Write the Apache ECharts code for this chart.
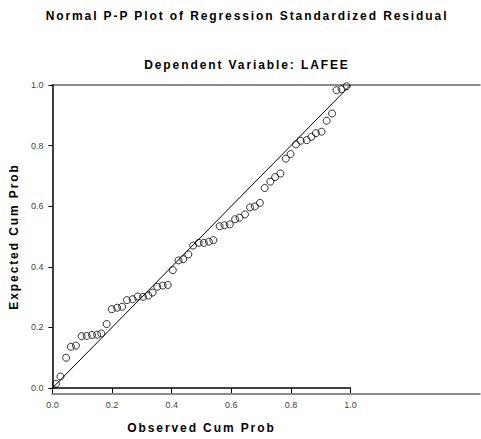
<!DOCTYPE html>
<html>
<head>
<meta charset="utf-8">
<title>Normal P-P Plot</title>
<script src="https://cdn.jsdelivr.net/npm/echarts@6/dist/echarts.min.js"></script>
<style>
  html, body { margin: 0; padding: 0; background: #fff; }
  #main { width: 481px; height: 439px; }
  /* SPSS output spreads out its bold captions */
  #main text[style*="bold"] { letter-spacing: 1.9px; }
</style>
</head>
<body>
<div id="main"></div>
<script type="text/javascript">
    // observed cum prob (x) and expected cum prob (y)
    var observed = [0.012, 0.027, 0.046, 0.062, 0.079, 0.098, 0.115, 0.133, 0.150, 0.164,
                    0.182, 0.199, 0.217, 0.234, 0.250, 0.269, 0.286, 0.304, 0.322, 0.336,
                    0.352, 0.370, 0.387, 0.404, 0.423, 0.439, 0.456, 0.472, 0.491, 0.508,
                    0.525, 0.540, 0.561, 0.577, 0.595, 0.613, 0.628, 0.646, 0.663, 0.679,
                    0.696, 0.712, 0.731, 0.747, 0.765, 0.783, 0.799, 0.817, 0.833, 0.853,
                    0.869, 0.884, 0.903, 0.920, 0.938, 0.953, 0.970, 0.987];
    var expected = [0.014, 0.038, 0.100, 0.136, 0.140, 0.171, 0.172, 0.175, 0.176, 0.180,
                    0.211, 0.260, 0.265, 0.268, 0.290, 0.293, 0.302, 0.301, 0.305, 0.315,
                    0.334, 0.338, 0.340, 0.389, 0.421, 0.425, 0.441, 0.470, 0.479, 0.479,
                    0.483, 0.488, 0.534, 0.537, 0.540, 0.557, 0.562, 0.573, 0.596, 0.599,
                    0.611, 0.660, 0.681, 0.696, 0.708, 0.757, 0.772, 0.804, 0.816, 0.818,
                    0.829, 0.841, 0.846, 0.882, 0.906, 0.983, 0.986, 0.996];
    var refLine = [[0, 0], [1, 1]];
    var tickLabels = ['0.0', '0.2', '0.4', '0.6', '0.8', '1.0'];

    var points = [];
    for (var i = 0; i < observed.length; i++) {
        points.push([observed[i], expected[i]]);
    }

    var font = '"Liberation Sans", Arial, sans-serif';
    var myChart = echarts.init(document.getElementById('main'), null, {renderer: 'svg'});

    var option = {
        animation: false,
        backgroundColor: '#fff',
        title: [{
            text: 'Normal P-P Plot of Regression Standardized Residual',
            left: 242, top: 5, textAlign: 'center',
            textStyle: {fontFamily: font, fontSize: 12, fontWeight: 'bold', color: '#000'}
        }, {
            text: 'Dependent Variable: LAFEE',
            left: 242, top: 54, textAlign: 'center',
            textStyle: {fontFamily: font, fontSize: 12, fontWeight: 'bold', color: '#000'}
        }],
        grid: [
            {left: 52, top: 85, width: 298.5, bottom: 45},   // data area 0..1
            {left: 52, top: 85, right: 1, bottom: 45}        // frame running to the right edge
        ],
        xAxis: [{
            gridIndex: 0, type: 'value', min: 0, max: 1, interval: 0.2,
            name: 'Observed Cum Prob', nameLocation: 'middle', nameGap: 34,
            nameTextStyle: {fontFamily: font, fontSize: 12, fontWeight: 'bold', color: '#000'},
            axisLine: {show: true, lineStyle: {color: '#000', width: 1.5}},
            axisTick: {show: true, length: 5, lineStyle: {color: '#000', width: 1}},
            axisLabel: {fontFamily: font, fontSize: 9, color: '#444', margin: 12,
                formatter: function (v) { return tickLabels[Math.round(v * 5)]; }},
            splitLine: {show: false},
            z: 5
        }, {
            gridIndex: 1, type: 'value', min: 0, max: 1, position: 'bottom',
            axisLine: {show: true, lineStyle: {color: '#666', width: 1.5}},
            axisTick: {show: false}, axisLabel: {show: false}, splitLine: {show: false}
        }, {
            gridIndex: 1, type: 'value', min: 0, max: 1, position: 'top',
            axisLine: {show: true, lineStyle: {color: '#666', width: 1.5}},
            axisTick: {show: false}, axisLabel: {show: false}, splitLine: {show: false}
        }],
        yAxis: [{
            gridIndex: 0, type: 'value', min: 0, max: 1, interval: 0.2,
            name: 'Expected Cum Prob', nameLocation: 'middle', nameGap: 27,
            nameTextStyle: {fontFamily: font, fontSize: 12, fontWeight: 'bold', color: '#000'},
            axisLine: {show: true, lineStyle: {color: '#000', width: 1.5}},
            axisTick: {show: true, length: 4, lineStyle: {color: '#000', width: 1}},
            axisLabel: {fontFamily: font, fontSize: 9, color: '#444', margin: 9,
                formatter: function (v) { return tickLabels[Math.round(v * 5)]; }},
            splitLine: {show: false},
            z: 5
        }, {
            gridIndex: 1, type: 'value', min: 0, max: 1, show: false
        }],
        series: [{
            type: 'line',
            xAxisIndex: 0, yAxisIndex: 0,
            data: refLine,
            symbol: 'none',
            lineStyle: {color: '#000', width: 1},
            silent: true
        }, {
            type: 'scatter',
            xAxisIndex: 0, yAxisIndex: 0,
            data: points,
            symbol: 'circle',
            symbolSize: 7,
            clip: false,
            itemStyle: {color: 'rgba(0,0,0,0)', borderColor: '#000', borderWidth: 1}
        }]
    };
    myChart.setOption(option);
</script>
</body>
</html>
